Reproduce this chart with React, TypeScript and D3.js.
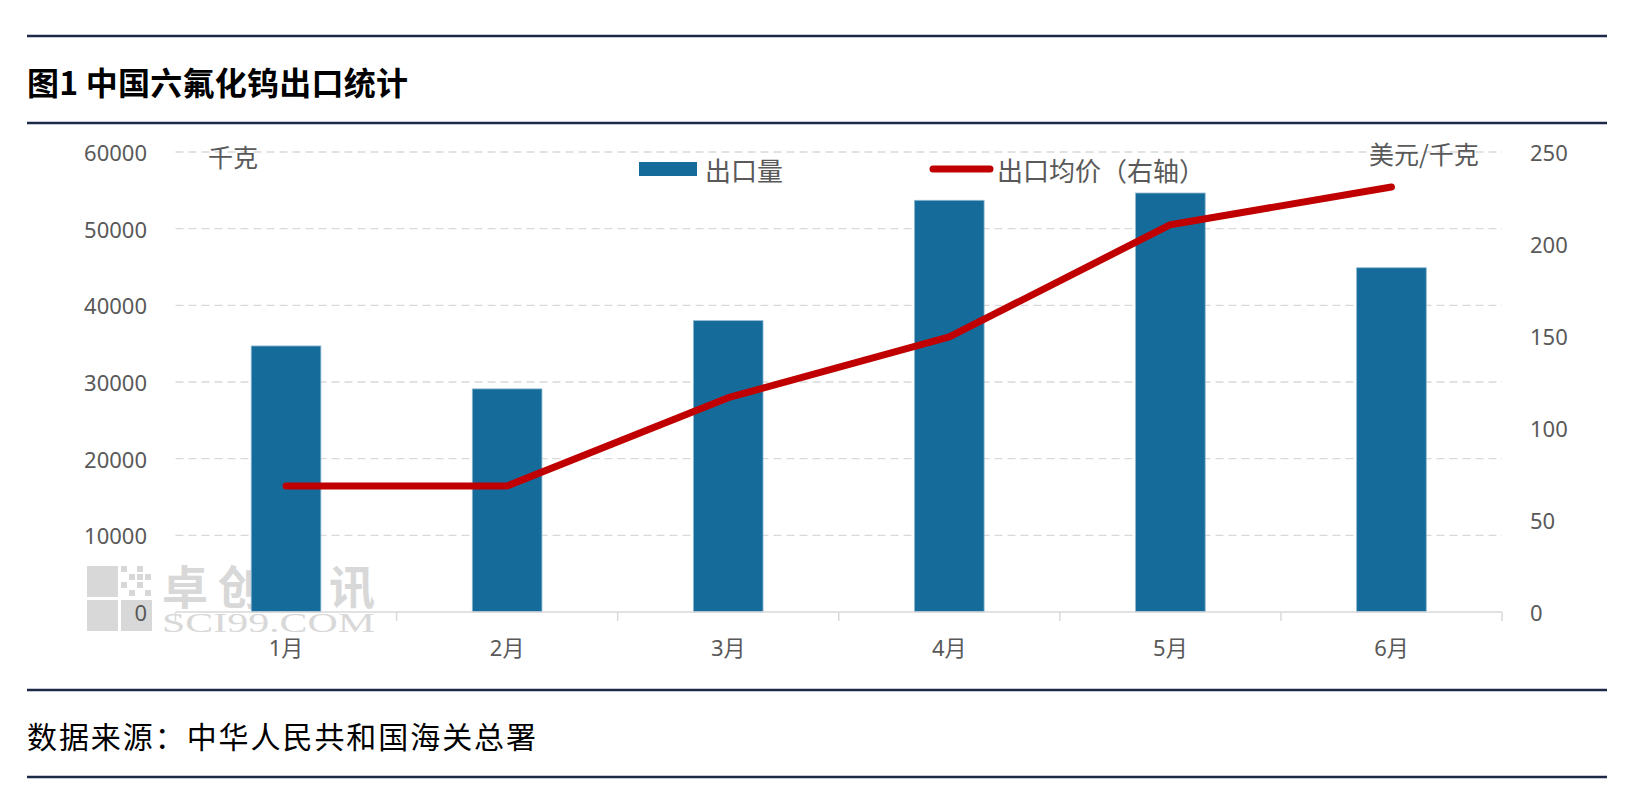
import React, { useEffect, useRef } from 'react';
import * as d3 from 'd3';

const months = ['1月', '2月', '3月', '4月', '5月', '6月'];
const exportVolume = [34700, 29100, 38000, 53700, 54650, 44900];
const exportPrice = [68.5, 68.5, 116.5, 149.5, 210.5, 231];
const leftTicks = [0, 10000, 20000, 30000, 40000, 50000, 60000];
const rightTicks = [0, 50, 100, 150, 200, 250];

const W = 1646;
const H = 806;
const FONT = '"Noto Sans", "Noto Sans CJK SC", sans-serif';
const CJK = '"Noto Sans CJK SC", "Noto Sans", sans-serif';
const NAVY = '#1c2a48';
const BAR = '#156c9b';
const LINE = '#c00000';
const TEXT = '#595959';

const App: React.FC = () => {
  const svgRef = useRef<SVGSVGElement>(null);

  useEffect(() => {
    if (!svgRef.current) return;
    const svg = d3.select(svgRef.current);
    svg.selectAll('*').remove();

    const left = 175.5;
    const right = 1502;
    const top = 152;
    const bottom = 612;

    const x = d3.scaleBand<string>().domain(months).range([left, right]).padding(0);
    const yL = d3.scaleLinear().domain([0, 60000]).range([bottom, top]);
    const yR = d3.scaleLinear().domain([0, 250]).range([bottom, top]);
    const barW = x.bandwidth() * 0.315;

    svg.append('rect').attr('width', W).attr('height', H).attr('fill', '#fff');

    // header / footer rules
    [36, 123, 690, 777].forEach(y => {
      svg.append('line')
        .attr('x1', 27).attr('x2', 1607)
        .attr('y1', y).attr('y2', y)
        .attr('stroke', NAVY).attr('stroke-width', 2.6);
    });

    svg.append('text')
      .attr('x', 27).attr('y', 81)
      .attr('dominant-baseline', 'central')
      .attr('textLength', 381)
      .style('font-family', CJK)
      .style('font-size', '32px')
      .style('font-weight', 'bold')
      .style('fill', '#000')
      .text('图1 中国六氟化钨出口统计');

    svg.append('text')
      .attr('x', 27).attr('y', 735)
      .attr('dominant-baseline', 'central')
      .attr('textLength', 509)
      .style('font-family', CJK)
      .style('font-size', '30px')
      .style('fill', '#000')
      .text('数据来源：中华人民共和国海关总署');

    // gridlines
    svg.append('g')
      .selectAll('line')
      .data(leftTicks.filter(d => d > 0))
      .enter()
      .append('line')
      .attr('x1', left).attr('x2', right)
      .attr('y1', d => yL(d)).attr('y2', d => yL(d))
      .attr('stroke', '#d9d9d9')
      .attr('stroke-width', 1.3)
      .attr('stroke-dasharray', '8 5');

    // watermark
    const wm = svg.append('g').attr('opacity', 0.85);
    const wmc = '#d2d2d2';
    const lx = 87, ly = 566, q = 31, gap = 3;
    wm.append('rect').attr('x', lx).attr('y', ly).attr('width', q).attr('height', q).attr('fill', wmc);
    wm.append('rect').attr('x', lx).attr('y', ly + q + gap).attr('width', q).attr('height', q).attr('fill', wmc);
    wm.append('rect').attr('x', lx + q + gap).attr('y', ly + q + gap).attr('width', q).attr('height', q).attr('fill', wmc);
    const dots = [[0, 0], [2, 0], [1, 1], [3, 1], [0, 2], [2, 2], [1, 3], [3, 3], [2, 1]];
    wm.selectAll('.dot')
      .data(dots)
      .enter()
      .append('rect')
      .attr('class', 'dot')
      .attr('x', d => lx + q + gap + d[0] * 8)
      .attr('y', d => ly + d[1] * 8)
      .attr('width', 6).attr('height', 6)
      .attr('fill', wmc);
    wm.append('text')
      .attr('x', 162).attr('y', 604)
      .attr('textLength', 213)
      .style('font-family', CJK)
      .style('font-size', '46px')
      .style('font-weight', 'bold')
      .style('fill', wmc)
      .text('卓创资讯');
    wm.append('text')
      .attr('x', 162).attr('y', 632)
      .attr('textLength', 213)
      .attr('lengthAdjust', 'spacingAndGlyphs')
      .style('font-family', '"Liberation Serif", "DejaVu Serif", serif')
      .style('font-size', '27px')
      .style('fill', wmc)
      .text('SCI99.COM');

    // bars
    svg.append('g')
      .selectAll('rect')
      .data(exportVolume)
      .enter()
      .append('rect')
      .attr('x', (d, i) => (x(months[i]) as number) + x.bandwidth() / 2 - barW / 2)
      .attr('y', d => yL(d))
      .attr('width', barW)
      .attr('height', d => yL(0) - yL(d))
      .attr('fill', BAR)
      .attr('stroke', '#8fb7d0')
      .attr('stroke-width', 0.8);

    // x axis
    svg.append('line')
      .attr('x1', left).attr('x2', right)
      .attr('y1', bottom).attr('y2', bottom)
      .attr('stroke', '#d9d9d9').attr('stroke-width', 1.5);
    svg.append('g')
      .selectAll('line')
      .data(d3.range(months.length + 1))
      .enter()
      .append('line')
      .attr('x1', i => left + i * x.step()).attr('x2', i => left + i * x.step())
      .attr('y1', bottom).attr('y2', bottom + 9)
      .attr('stroke', '#d9d9d9').attr('stroke-width', 1.5);

    svg.append('g')
      .selectAll('text')
      .data(months)
      .enter()
      .append('text')
      .attr('x', d => (x(d) as number) + x.bandwidth() / 2)
      .attr('y', 647)
      .attr('text-anchor', 'middle')
      .attr('dominant-baseline', 'central')
      .style('font-family', FONT)
      .style('font-size', '22px')
      .style('fill', TEXT)
      .text(d => d);

    // left axis labels
    svg.append('g')
      .selectAll('text')
      .data(leftTicks)
      .enter()
      .append('text')
      .attr('x', 147)
      .attr('y', d => yL(d))
      .attr('text-anchor', 'end')
      .attr('dominant-baseline', 'central')
      .style('font-family', FONT)
      .style('font-size', '22px')
      .style('fill', TEXT)
      .text(d => String(d));

    // right axis labels
    svg.append('g')
      .selectAll('text')
      .data(rightTicks)
      .enter()
      .append('text')
      .attr('x', 1530)
      .attr('y', d => yR(d))
      .attr('dominant-baseline', 'central')
      .style('font-family', FONT)
      .style('font-size', '22px')
      .style('fill', TEXT)
      .text(d => String(d));

    // unit labels
    svg.append('text')
      .attr('x', 208).attr('y', 156)
      .attr('dominant-baseline', 'central')
      .style('font-family', CJK)
      .style('font-size', '25px')
      .style('fill', TEXT)
      .text('千克');
    svg.append('text')
      .attr('x', 1369).attr('y', 153)
      .attr('dominant-baseline', 'central')
      .style('font-family', CJK)
      .style('font-size', '25px')
      .style('fill', TEXT)
      .text('美元/千克');

    // price line
    const line = d3.line<number>()
      .x((d, i) => (x(months[i]) as number) + x.bandwidth() / 2)
      .y(d => yR(d));
    svg.append('path')
      .datum(exportPrice)
      .attr('d', line)
      .attr('fill', 'none')
      .attr('stroke', LINE)
      .attr('stroke-width', 7)
      .attr('stroke-linecap', 'round')
      .attr('stroke-linejoin', 'round');

    // legend
    const legend = svg.append('g');
    legend.append('rect')
      .attr('x', 639).attr('y', 162)
      .attr('width', 58).attr('height', 14)
      .attr('fill', BAR);
    legend.append('text')
      .attr('x', 705).attr('y', 169)
      .attr('dominant-baseline', 'central')
      .style('font-family', CJK)
      .style('font-size', '26px')
      .style('fill', TEXT)
      .text('出口量');
    legend.append('line')
      .attr('x1', 933).attr('x2', 990)
      .attr('y1', 169).attr('y2', 169)
      .attr('stroke', LINE)
      .attr('stroke-width', 7)
      .attr('stroke-linecap', 'round');
    legend.append('text')
      .attr('x', 997).attr('y', 169)
      .attr('dominant-baseline', 'central')
      .style('font-family', CJK)
      .style('font-size', '26px')
      .style('fill', TEXT)
      .text('出口均价（右轴）');
  }, []);

  return (
    <svg
      ref={svgRef}
      width={W}
      height={H}
      style={{ position: 'absolute', left: 0, top: 0, display: 'block' }}
    />
  );
};

export default App;
